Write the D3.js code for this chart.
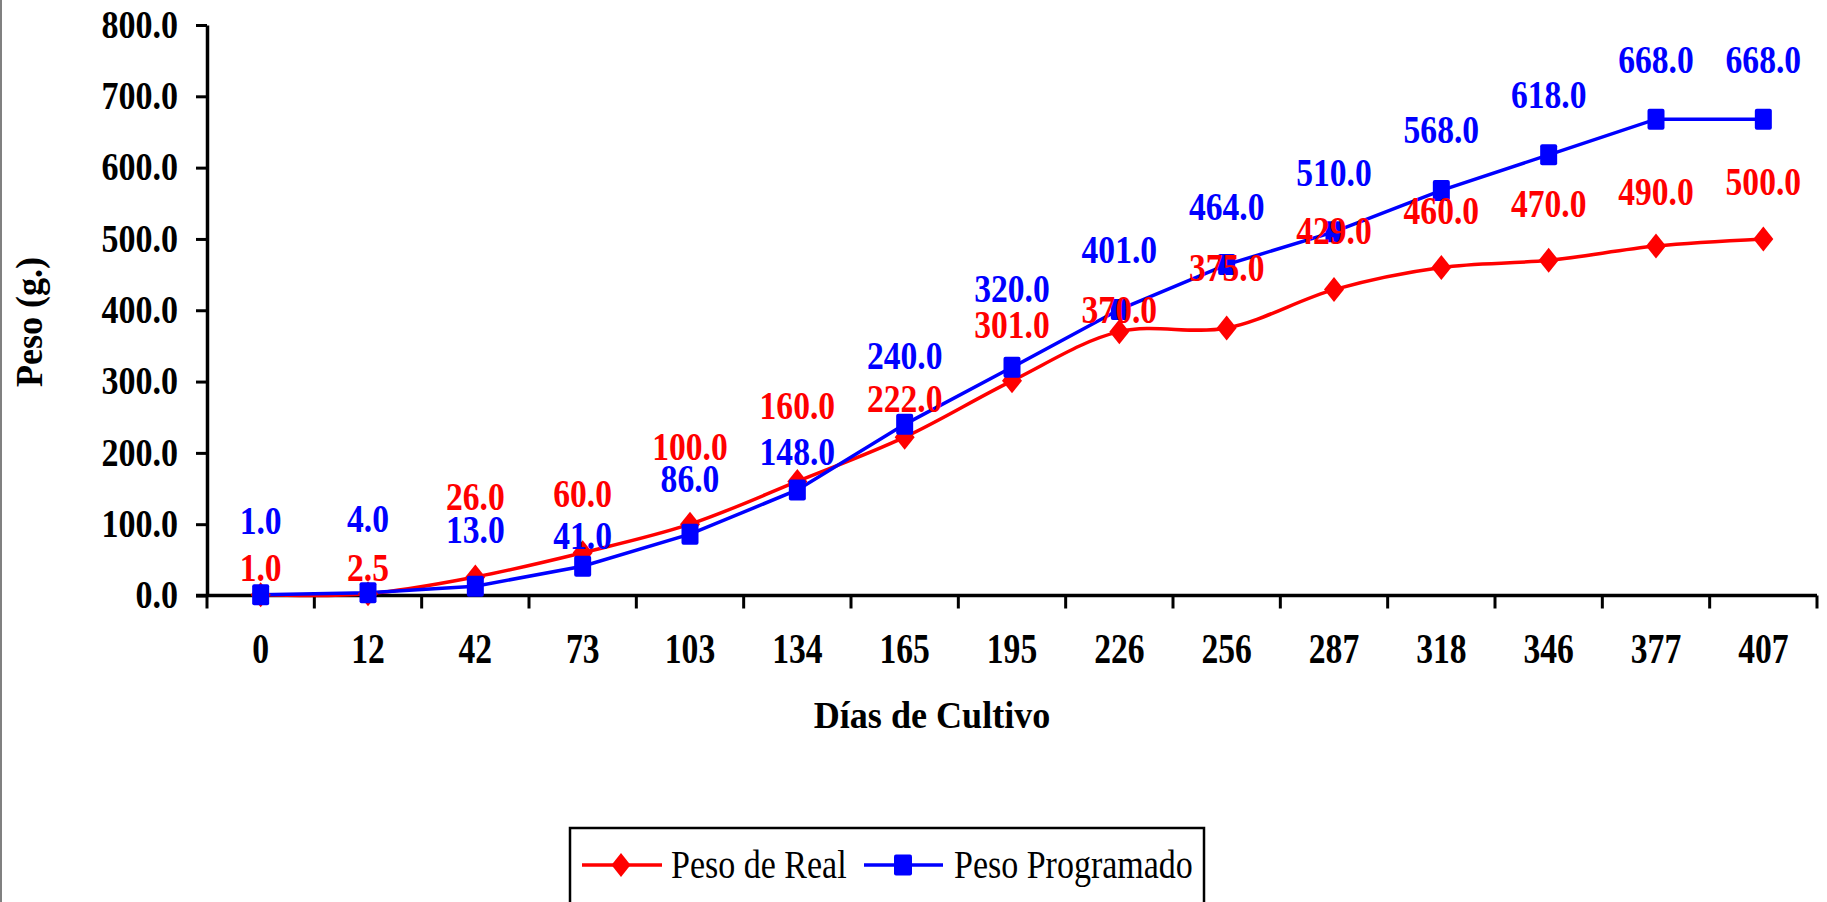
<!DOCTYPE html>
<html>
<head>
<meta charset="utf-8">
<script src="https://cdn.jsdelivr.net/npm/d3@7/dist/d3.min.js"></script>
<style>
  html, body { margin: 0; padding: 0; background: #fff; }
  svg { display: block; }
  text { font-family: "Liberation Serif", "Times New Roman", serif; }
</style>
</head>
<body>
<svg id="chart" width="1827" height="902"></svg>
<script>
// ---- data ----
const days = ["0","12","42","73","103","134","165","195","226","256","287","318","346","377","407"];
const pesoReal = [1.0, 2.5, 26.0, 60.0, 100.0, 160.0, 222.0, 301.0, 370.0, 375.0, 429.0, 460.0, 470.0, 490.0, 500.0];
const pesoProgramado = [1.0, 4.0, 13.0, 41.0, 86.0, 148.0, 240.0, 320.0, 401.0, 464.0, 510.0, 568.0, 618.0, 668.0, 668.0];
const yTicks = [0, 100, 200, 300, 400, 500, 600, 700, 800];
const seriesNames = ["Peso de Real", "Peso Programado"];
const xTitle = "Días de Cultivo";
const yTitle = "Peso (g.)";

// ---- layout (label placement, px from point to label centre) ----
const realLabelDy = [-27, -26, -80, -59, -78, -76, -39, -56, -22, -61, -59, -57, -57, -55, -57];
const progLabelDy = [-74, -74, -57, -31, -56, -38, -69, -79, -60, -58, -59, -61, -60, -60, -60];

(function () {
const RED = "#ff0000", BLUE = "#0000ff";
const svg = d3.select("#chart");
const pLeft = 207, pRight = 1817, pTop = 25, pBottom = 595.5;

const x = d3.scaleBand().domain(days).range([pLeft, pRight]).padding(0);
const y = d3.scaleLinear().domain([0, 800]).range([pBottom, pTop]);
const cx = d => x(d) + x.bandwidth() / 2;

// left border
svg.append("line").attr("x1", 1).attr("x2", 1).attr("y1", 0).attr("y2", 902)
  .attr("stroke", "#808080").attr("stroke-width", 2);

// y axis
const yAxis = svg.append("g").attr("transform", `translate(${pLeft},0)`)
  .call(d3.axisLeft(y).tickValues(yTicks).tickFormat(d3.format(".1f")).tickSize(11).tickSizeOuter(0));
yAxis.select(".domain").attr("stroke", "#000").attr("stroke-width", 3.5);
yAxis.selectAll(".tick line").attr("stroke", "#000").attr("stroke-width", 3);
yAxis.selectAll(".tick text")
  .attr("x", -29 / 0.83).attr("dy", "0.3em")
  .attr("transform", "scale(0.83,1)")
  .attr("fill", "#000").attr("font-size", 41).attr("font-weight", "bold")
  .attr("font-family", "Liberation Serif, Times New Roman, serif");

// x axis line
svg.append("line").attr("x1", pLeft - 11).attr("x2", pRight).attr("y1", pBottom).attr("y2", pBottom)
  .attr("stroke", "#000").attr("stroke-width", 3.5);
// boundary ticks
const bounds = days.map(d => x(d)).concat([x(days[days.length - 1]) + x.bandwidth()]);
svg.append("g").selectAll("line").data(bounds).join("line")
  .attr("x1", d => d).attr("x2", d => d).attr("y1", pBottom).attr("y2", pBottom + 13)
  .attr("stroke", "#000").attr("stroke-width", 3);
// x labels
svg.append("g").selectAll("text").data(days).join("text")
  .attr("transform", d => `translate(${cx(d)},663) scale(0.8,1)`)
  .attr("text-anchor", "middle").attr("font-size", 42).attr("font-weight", "bold")
  .text(d => d);

// axis titles
svg.append("text").attr("transform", "translate(932,728) scale(0.95,1)")
  .attr("text-anchor", "middle").attr("font-size", 38).attr("font-weight", "bold").text(xTitle);
svg.append("text").attr("transform", "translate(42,322) rotate(-90) scale(0.95,1)")
  .attr("text-anchor", "middle").attr("font-size", 38).attr("font-weight", "bold").text(yTitle);

// lines
const realPts = days.map((d, i) => [cx(d), y(pesoReal[i])]);
const progPts = days.map((d, i) => [cx(d), y(pesoProgramado[i])]);
svg.append("path").attr("d", d3.line().curve(d3.curveCatmullRom.alpha(0.5))(realPts))
  .attr("fill", "none").attr("stroke", RED).attr("stroke-width", 3.5);
svg.append("path").attr("d", d3.line()(progPts))
  .attr("fill", "none").attr("stroke", BLUE).attr("stroke-width", 3.5);

function diamond(px, py, hw, hh) {
  const p = d3.path();
  p.moveTo(px, py - hh); p.lineTo(px + hw, py); p.lineTo(px, py + hh); p.lineTo(px - hw, py); p.closePath();
  return p.toString();
}
// markers
svg.append("g").selectAll("path").data(realPts).join("path")
  .attr("d", p => diamond(p[0], p[1], 10, 12.5)).attr("fill", RED);
svg.append("g").selectAll("rect").data(progPts).join("rect")
  .attr("x", p => p[0] - 8.5).attr("y", p => p[1] - 10.5).attr("width", 17).attr("height", 21)
  .attr("rx", 2).attr("fill", BLUE);

// data labels
const fmt = d3.format(".1f");
svg.append("g").selectAll("text").data(days).join("text")
  .attr("transform", (d, i) => `translate(${cx(d)},${y(pesoReal[i]) + realLabelDy[i] + 13.5}) scale(0.84,1)`)
  .attr("text-anchor", "middle").attr("font-size", 40).attr("font-weight", "bold").attr("fill", RED)
  .text((d, i) => fmt(pesoReal[i]));
svg.append("g").selectAll("text").data(days).join("text")
  .attr("transform", (d, i) => `translate(${cx(d)},${y(pesoProgramado[i]) + progLabelDy[i] + 13.5}) scale(0.84,1)`)
  .attr("text-anchor", "middle").attr("font-size", 40).attr("font-weight", "bold").attr("fill", BLUE)
  .text((d, i) => fmt(pesoProgramado[i]));

// legend
const lg = svg.append("g");
lg.append("rect").attr("x", 570).attr("y", 828).attr("width", 634).attr("height", 100)
  .attr("fill", "#fff").attr("stroke", "#000").attr("stroke-width", 2.5);
lg.append("line").attr("x1", 582).attr("x2", 662).attr("y1", 865).attr("y2", 865).attr("stroke", RED).attr("stroke-width", 3.5);
lg.append("path").attr("d", diamond(621, 865, 9.5, 12)).attr("fill", RED);
lg.append("text").attr("transform", "translate(671,878) scale(0.85,1)").attr("font-size", 40).text(seriesNames[0]);
lg.append("line").attr("x1", 864).attr("x2", 943).attr("y1", 865).attr("y2", 865).attr("stroke", BLUE).attr("stroke-width", 3.5);
lg.append("rect").attr("x", 903 - 9).attr("y", 865 - 10.5).attr("width", 18).attr("height", 21).attr("rx", 2).attr("fill", BLUE);
lg.append("text").attr("transform", "translate(954,878) scale(0.85,1)").attr("font-size", 40).text(seriesNames[1]);
})();
</script>
</body>
</html>
